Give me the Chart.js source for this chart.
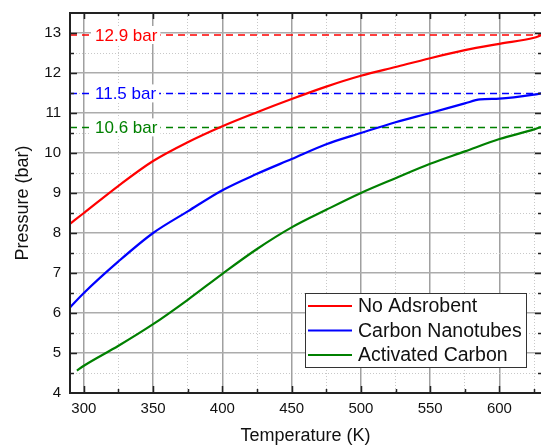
<!DOCTYPE html>
<html><head><meta charset="utf-8">
<script src="https://cdn.jsdelivr.net/npm/chart.js@4/dist/chart.umd.min.js"></script>
<style>html,body{margin:0;padding:0;background:#fff;}canvas{display:block;}</style>
</head><body>
<canvas id="c" width="541" height="448"></canvas>
<script>
// ---- data ----
const seriesNames = ['No Adsrobent', 'Carbon Nanotubes', 'Activated Carbon'];
const seriesColors = ['#ff0000', '#0000ff', '#008000'];

const redT = [290, 300, 325, 350, 375, 400, 425, 450, 475, 500, 525, 550, 575, 600, 625, 630];
const redP = [8.23, 8.5, 9.18, 9.8, 10.27, 10.67, 11.02, 11.35, 11.66, 11.93, 12.15, 12.37, 12.57, 12.73, 12.88, 12.94];

const blueT = [290, 300, 325, 350, 375, 400, 425, 450, 475, 500, 525, 550, 575, 586, 600, 625, 630];
const blueP = [6.14, 6.5, 7.29, 8.0, 8.54, 9.07, 9.48, 9.85, 10.22, 10.5, 10.77, 11.0, 11.24, 11.34, 11.36, 11.46, 11.49];

const greenT = [295, 300, 325, 350, 375, 400, 425, 450, 475, 500, 525, 550, 575, 600, 625, 630];
const greenP = [4.56, 4.68, 5.18, 5.72, 6.33, 6.98, 7.6, 8.14, 8.58, 9.0, 9.37, 9.73, 10.04, 10.35, 10.59, 10.65];

const refValues = [12.95, 11.49, 10.64];
const refLabels = ['12.9 bar', '11.5 bar', '10.6 bar'];

const xMin = 290, xMax = 630, yMin = 4, yMax = 13.5;
const xTitle = 'Temperature (K)';
const yTitle = 'Pressure (bar)';

// ---- build datasets ----
const toPts = (T, P) => T.map((t, i) => ({x: t, y: P[i]}));
const curves = [toPts(redT, redP), toPts(blueT, blueP), toPts(greenT, greenP)];
const datasets = [];
curves.forEach((pts, i) => datasets.push({
  label: seriesNames[i], data: pts, borderColor: seriesColors[i], backgroundColor: seriesColors[i],
  borderWidth: 2.2, pointRadius: 0, cubicInterpolationMode: 'monotone', fill: false, order: 1
}));
refValues.forEach((v, i) => datasets.push({
  label: 'ref' + i, data: [{x: xMin, y: v}, {x: xMax, y: v}], borderColor: seriesColors[i],
  borderWidth: 1.5, borderDash: [7, 5], pointRadius: 0, fill: false, order: 2
}));

const FONT = "'Liberation Sans', Arial, sans-serif";

const decorPlugin = {
  id: 'decor',
  afterDatasetsDraw(chart) {
    const {ctx, chartArea: a, scales: {x, y}} = chart;
    ctx.save();
    // reference labels
    ctx.font = '17px ' + FONT;
    ctx.textBaseline = 'alphabetic';
    refValues.forEach((v, i) => {
      const py = y.getPixelForValue(v);
      const tx = a.left + 25;
      const w = ctx.measureText(refLabels[i]).width;
      ctx.fillStyle = '#fff';
      ctx.fillRect(tx - 4, py - 9, w + 7, 18);
      ctx.fillStyle = seriesColors[i];
      ctx.fillText(refLabels[i], tx, py + 6);
    });
    // legend
    const lx = a.right - 236, ly = a.bottom - 100, lw = 221, lh = 74;
    ctx.fillStyle = '#fff';
    ctx.fillRect(lx, ly, lw, lh);
    ctx.strokeStyle = '#333';
    ctx.lineWidth = 1;
    ctx.strokeRect(lx + 0.5, ly + 0.5, lw, lh);
    ctx.font = '19.5px ' + FONT;
    ctx.textBaseline = 'middle';
    seriesNames.forEach((n, i) => {
      const cy = ly + 13 + i * 24.5;
      ctx.strokeStyle = seriesColors[i];
      ctx.lineWidth = 2;
      ctx.beginPath(); ctx.moveTo(lx + 3, cy); ctx.lineTo(lx + 47, cy); ctx.stroke();
      ctx.fillStyle = '#111';
      ctx.fillText(n, lx + 53, cy + 1);
    });
    ctx.restore();
  },
  afterDraw(chart) {
    const {ctx, chartArea: a, scales: {x, y}} = chart;
    ctx.save();
    ctx.strokeStyle = '#222';
    ctx.lineWidth = 2;
    ctx.beginPath();
    ctx.moveTo(a.right + 2, a.top); ctx.lineTo(a.left, a.top); ctx.lineTo(a.left, a.bottom); ctx.lineTo(a.right + 2, a.bottom);
    ctx.stroke();
    ctx.lineWidth = 1.5;
    ctx.beginPath();
    x.ticks.forEach(t => {
      const px = Math.round(x.getPixelForValue(t.value)) + 0.5;
      const major = t.value % 50 === 0;
      ctx.moveTo(px, a.bottom); ctx.lineTo(px, a.bottom - (major ? 7 : 4));
      ctx.moveTo(px, a.top); ctx.lineTo(px, a.top + (major ? 6 : 3));
    });
    y.ticks.forEach(t => {
      if (t.value <= yMin || t.value >= yMax) return;
      const py = Math.round(y.getPixelForValue(t.value)) + 0.5;
      const major = Number.isInteger(t.value);
      ctx.moveTo(a.left, py); ctx.lineTo(a.left + (major ? 7 : 4), py);
      ctx.moveTo(a.right, py); ctx.lineTo(a.right - (major ? 6 : 3), py);
    });
    ctx.stroke();
    ctx.restore();
  }
};

new Chart(document.getElementById('c'), {
  type: 'line',
  data: {datasets},
  options: {
    responsive: false,
    devicePixelRatio: 1,
    animation: false,
    layout: {padding: {top: 13, right: 0, left: 0, bottom: 0}},
    plugins: {legend: {display: false}, tooltip: {enabled: false}},
    scales: {
      x: {
        type: 'linear', min: xMin, max: xMax,
        afterFit: s => { s.height = 55; s.paddingLeft = 0; s.paddingRight = 0; },
        ticks: {stepSize: 25, includeBounds: false, autoSkip: false, maxRotation: 0, padding: 7,
          color: '#111', font: {family: FONT, size: 15},
          callback: v => (v % 50 === 0 ? String(v) : '')},
        grid: {drawTicks: false,
          color: c => !c.tick ? 'transparent' : (c.tick.value % 50 === 0 ? '#a0a0a0' : '#c8c8c8'),
          lineWidth: c => (c.tick && c.tick.value % 50 === 0) ? 1.5 : 1},
        border: {display: false, dash: c => (c.tick && c.tick.value % 50 !== 0) ? [1, 2] : []},
        title: {display: true, text: xTitle, color: '#111', font: {family: FONT, size: 18}, padding: {top: 0, bottom: 1}}
      },
      y: {
        type: 'linear', min: yMin, max: yMax,
        afterFit: s => { s.width = 70; s.paddingTop = 0; s.paddingBottom = 0; },
        ticks: {stepSize: 0.5, includeBounds: false, autoSkip: false, padding: 9,
          color: '#111', font: {family: FONT, size: 15},
          callback: v => (Number.isInteger(v) ? String(v) : '')},
        grid: {drawTicks: false,
          color: c => (!c.tick || c.tick.value <= yMin || c.tick.value >= yMax) ? 'transparent' : (Number.isInteger(c.tick.value) ? '#acacac' : '#c8c8c8'),
          lineWidth: c => (c.tick && Number.isInteger(c.tick.value)) ? 1.5 : 1},
        border: {display: false, dash: c => (c.tick && !Number.isInteger(c.tick.value)) ? [1, 2] : []},
        title: {display: true, text: yTitle, color: '#111', font: {family: FONT, size: 18}, padding: {top: 12, bottom: 0}}
      }
    }
  },
  plugins: [decorPlugin]
});
</script>
</body></html>
